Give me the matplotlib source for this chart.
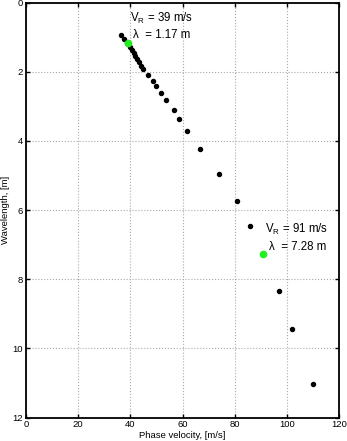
import numpy as np
import matplotlib.pyplot as plt

plt.rcParams['font.family'] = ['Liberation Sans', 'DejaVu Sans']

# dispersion curve: phase velocity [m/s] vs wavelength [m]
vel = [36.6, 37.4, 38.7, 39.7, 40.6, 41.3, 41.9, 42.6, 43.2, 43.9, 44.8,
       46.7, 48.8, 49.8, 51.8, 53.8, 56.7, 58.8, 61.8, 66.8, 73.8, 80.8,
       85.8, 96.9, 102.0, 110.0]
wl = [0.95, 1.04, 1.16, 1.27, 1.37, 1.46, 1.55, 1.64, 1.73, 1.83, 1.93,
      2.10, 2.27, 2.41, 2.61, 2.82, 3.11, 3.37, 3.72, 4.24, 4.95, 5.74,
      6.47, 8.34, 9.45, 11.03]

# picked points
pick_v = [39, 91]
pick_l = [1.17, 7.28]

fig = plt.figure(figsize=(3.47, 4.41), dpi=100)
ax = fig.add_axes([0.075, 0.053, 0.902, 0.941])

ax.plot(vel, wl, 'o', color='black', markersize=2.9, linestyle='none')
ax.plot(pick_v, pick_l, 'o', color='#22ee22', markersize=4.5, linestyle='none')

for v, l in zip(pick_v, pick_l):
    ax.text(v + 0.8, l - 0.72, '$\\mathregular{V_R}$ = %d m/s' % v, fontsize=8.3,
            va='center', ha='left')
    ax.text(v + 2.0, l - 0.22, 'λ  = %.2f m' % l, fontsize=8.3,
            va='center', ha='left')

ax.set_xlim(0, 120)
ax.set_ylim(12, 0)
ax.set_xticks(np.arange(0, 121, 20))
ax.set_yticks(np.arange(0, 13, 2))
ax.tick_params(direction='in', top=True, right=True, labelsize=6.8, length=3, width=1.0, pad=2)
ax.grid(True, linestyle=':', color='#aaaaaa', linewidth=0.8)
for s in ax.spines.values():
    s.set_linewidth(1.3)

ax.set_xlabel('Phase velocity, [m/s]', fontsize=6.8, labelpad=1)
ax.set_ylabel('Wavelength, [m]', fontsize=6.8)
ax.yaxis.set_label_coords(-0.05, 0.5)

fig.savefig('out.png', dpi=100)
